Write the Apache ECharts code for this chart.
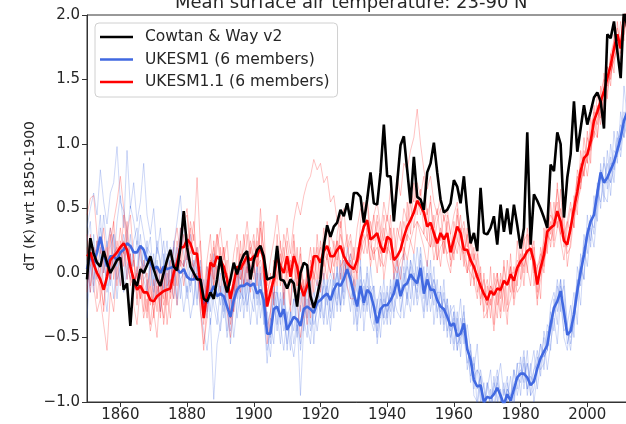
<!DOCTYPE html>
<html><head><meta charset="utf-8">
<script src="https://cdn.jsdelivr.net/npm/echarts@6/dist/echarts.min.js"></script>
<style>html,body{margin:0;padding:0;background:#fff}#c{width:626px;height:424px}</style>
</head><body><div id="c"></div>
<script>
const startYear = 1850;
const xTicks = [1860, 1880, 1900, 1920, 1940, 1960, 1980, 2000];
const titleText = 'Mean surface air temperature: 23-90 N';
const yLabel = 'dT (K) wrt 1850-1900';
const legendNames = ['Cowtan & Way v2', 'UKESM1 (6 members)', 'UKESM1.1 (6 members)'];

const cowtanWay = [
-0.05,0.27,0.15,0.08,0.05,0.17,0.08,0.00,0.05,0.10,
0.12,-0.13,-0.08,-0.41,-0.05,-0.10,0.03,0.00,0.06,0.13,
0.03,-0.05,-0.10,0.00,0.10,0.18,0.05,0.02,0.20,0.48,
0.20,0.05,0.00,-0.05,-0.05,-0.20,-0.22,-0.15,-0.20,-0.05,
0.13,-0.05,-0.15,-0.05,0.08,-0.01,0.08,0.14,0.17,-0.05,
0.10,0.18,0.21,0.13,-0.05,-0.04,-0.03,0.21,-0.05,-0.06,
-0.12,-0.05,-0.08,-0.26,0.00,0.08,0.06,-0.18,-0.27,-0.18,
-0.05,0.21,0.37,0.28,0.36,0.39,0.49,0.44,0.54,0.41,
0.62,0.62,0.59,0.39,0.57,0.78,0.54,0.53,0.78,1.15,
0.75,0.75,0.40,0.70,0.99,1.06,0.80,0.54,0.90,0.59,
0.57,0.49,0.78,0.85,1.01,0.78,0.57,0.47,0.49,0.54,
0.72,0.67,0.54,0.75,0.47,0.23,0.31,0.17,0.66,0.31,
0.30,0.35,0.44,0.22,0.53,0.32,0.50,0.30,0.53,0.37,
0.19,0.35,1.09,0.22,0.61,0.56,0.50,0.43,0.35,0.84,
0.79,1.09,1.00,0.43,0.74,0.92,1.33,0.94,1.12,1.30,
1.15,1.25,1.36,1.40,1.33,1.12,1.85,1.82,1.95,1.72,
1.51,2.05,1.90];

const ukesm1Mean = [
0.03,0.13,0.08,0.16,0.28,0.16,0.05,0.13,0.13,0.10,
0.16,0.18,0.23,0.21,0.16,0.16,0.21,0.18,0.10,0.08,
0.03,0.05,0.00,0.05,0.03,0.04,0.05,0.03,0.00,0.03,
-0.03,-0.05,-0.05,-0.03,-0.05,-0.23,-0.23,-0.16,-0.10,-0.18,
-0.16,-0.18,-0.26,-0.34,-0.21,-0.13,-0.10,-0.10,-0.08,-0.10,
-0.08,-0.16,-0.13,-0.21,-0.47,-0.47,-0.28,-0.26,-0.34,-0.28,
-0.44,-0.39,-0.34,-0.36,-0.41,-0.28,-0.26,-0.28,-0.31,-0.23,
-0.21,-0.18,-0.16,-0.21,-0.13,-0.08,-0.10,-0.05,0.03,-0.05,
-0.16,-0.26,-0.10,-0.23,-0.13,-0.16,-0.26,-0.39,-0.28,-0.25,
-0.25,-0.21,-0.16,-0.05,-0.18,-0.10,-0.08,-0.01,-0.05,-0.08,
0.04,-0.16,-0.05,-0.13,-0.13,-0.21,-0.26,-0.28,-0.34,-0.41,
-0.39,-0.49,-0.47,-0.39,-0.59,-0.67,-0.83,-0.88,-0.87,-1.00,
-0.96,-0.97,-0.94,-0.89,-0.95,-1.02,-0.94,-0.99,-0.90,-0.81,
-0.78,-0.78,-0.81,-0.87,-0.84,-0.74,-0.66,-0.61,-0.56,-0.40,
-0.27,-0.22,-0.14,-0.30,-0.48,-0.45,-0.32,-0.14,0.01,0.14,
0.30,0.40,0.45,0.62,0.78,0.70,0.74,0.80,0.86,0.95,
1.05,1.18,1.25];

const ukesm11Mean = [
0.13,0.16,0.07,0.00,-0.05,-0.13,-0.03,0.10,0.13,0.16,
0.20,0.23,0.18,0.05,-0.05,-0.13,-0.10,-0.15,-0.15,-0.21,
-0.22,-0.18,-0.16,-0.14,-0.13,-0.12,0.00,0.08,0.20,0.20,
0.26,0.23,0.15,0.15,-0.08,-0.35,-0.15,0.08,0.05,0.13,
0.10,0.05,-0.05,-0.20,-0.08,0.05,0.03,0.08,0.13,0.10,
0.13,0.13,0.21,0.10,-0.26,-0.15,-0.05,0.13,0.05,0.00,
0.13,-0.03,0.13,0.05,-0.10,-0.18,-0.10,-0.03,0.13,0.13,
0.08,0.17,0.21,0.13,0.13,0.18,0.21,0.13,0.08,0.05,
0.03,0.10,0.26,0.36,0.41,0.26,0.28,0.31,0.21,0.16,
0.28,0.26,0.10,0.13,0.18,0.28,0.36,0.41,0.47,0.56,
0.52,0.47,0.36,0.39,0.31,0.23,0.31,0.26,0.31,0.16,
0.26,0.36,0.31,0.18,0.18,0.10,0.05,-0.03,-0.10,-0.16,
-0.21,-0.14,-0.17,-0.12,-0.13,-0.06,-0.09,-0.01,-0.06,0.04,
0.09,0.12,0.17,0.19,0.09,-0.09,0.04,0.14,0.32,0.35,
0.37,0.48,0.40,0.25,0.22,0.35,0.50,0.63,0.79,0.89,
0.92,1.02,1.18,1.25,1.33,1.41,1.51,1.61,1.74,1.85,
1.74,1.98,2.05];

const ukesm1Member1 = [
0.35,0.50,0.62,0.45,0.80,0.55,0.38,0.62,0.70,0.98,
0.55,0.48,0.30,0.52,0.40,0.22,0.45,0.30,0.15,0.28,
-0.05,0.20,0.10,-0.12,0.15,0.05,-0.20,0.10,0.35,0.15,
0.05,-0.15,0.10,-0.20,0.05,-0.35,-0.10,-0.40,-0.15,-0.30,
-0.45,-0.20,-0.50,-0.30,-0.05,-0.35,-0.15,0.05,-0.25,-0.10,
0.10,-0.20,0.05,-0.35,-0.60,-0.40,-0.20,-0.45,-0.15,-0.35,
-0.55,-0.30,-0.45,-0.20,-0.60,-0.35,-0.50,-0.15,-0.40,-0.30,
-0.10,-0.35,-0.05,-0.30,0.00,-0.20,0.10,-0.15,0.20,0.05,
-0.25,-0.05,-0.35,-0.10,-0.30,0.05,-0.20,-0.45,-0.15,-0.35,
-0.10,-0.40,-0.05,0.15,-0.20,0.05,-0.25,0.10,-0.10,0.20,
-0.05,-0.30,0.10,-0.20,0.05,-0.35,-0.10,-0.40,-0.20,-0.55,
-0.30,-0.60,-0.35,-0.50,-0.70,-0.55,-0.90,-0.75,-1.00,-0.85,
-1.10,-0.90,-1.05,-0.80,-1.00,-0.85,-1.10,-0.95,-0.75,-0.90,
-0.65,-0.90,-0.70,-0.95,-0.75,-0.60,-0.80,-0.45,-0.60,-0.30,
-0.45,-0.10,-0.30,-0.05,-0.40,-0.25,-0.50,0.05,-0.10,0.30,
0.15,0.45,0.30,0.70,0.50,0.90,0.65,1.00,0.80,1.10,
0.95,1.45,1.20];
const ukesm1Member2 = [
-0.20,0.15,-0.10,0.25,0.10,0.45,0.20,0.35,0.05,0.40,
0.60,0.35,0.95,0.50,0.70,0.40,0.55,0.85,0.45,0.30,
0.50,0.15,0.35,0.05,0.25,-0.10,0.20,0.40,0.60,0.25,
0.10,0.30,-0.05,0.15,-0.20,-0.05,-0.30,0.00,-0.25,-0.40,
-0.10,-0.35,-0.15,-0.55,-0.25,0.00,-0.30,-0.10,0.10,-0.20,
-0.30,0.00,-0.25,-0.05,-0.35,-0.55,-0.10,-0.30,-0.55,-0.20,
-0.35,-0.60,-0.20,-0.50,-0.25,-0.45,-0.10,-0.40,-0.20,-0.05,
-0.35,0.00,-0.25,-0.05,-0.35,0.05,-0.25,0.10,-0.10,-0.30,
-0.05,-0.40,0.05,-0.30,0.00,-0.35,-0.45,-0.20,-0.50,-0.15,
-0.40,-0.10,-0.35,0.05,-0.30,-0.15,0.10,-0.20,0.15,-0.10,
0.20,-0.05,-0.30,0.00,-0.25,-0.05,-0.40,-0.15,-0.50,-0.25,
-0.55,-0.30,-0.65,-0.35,-0.50,-0.85,-0.65,-1.05,-0.80,-1.10,
-0.85,-1.05,-0.80,-1.00,-0.90,-1.15,-0.85,-1.05,-1.00,-0.70,
-0.95,-0.65,-0.90,-0.70,-1.00,-0.80,-0.55,-0.75,-0.45,-0.60,
-0.20,-0.40,-0.05,-0.50,-0.60,-0.35,-0.15,-0.40,0.15,-0.05,
0.45,0.20,0.60,0.40,0.85,0.55,0.95,0.70,1.10,0.85,
1.25,1.05,1.40];
const ukesm1Member3 = [
0.10,-0.15,0.30,-0.05,0.20,-0.10,-0.30,0.05,-0.20,0.15,
-0.10,0.20,-0.05,0.30,0.05,0.25,-0.05,0.20,-0.15,0.10,
-0.20,0.05,-0.30,0.15,-0.15,0.10,0.20,-0.25,-0.05,-0.30,
-0.10,-0.35,-0.20,0.05,-0.30,-0.45,-0.60,-0.35,-0.98,-0.55,
-0.40,-0.10,-0.45,-0.20,-0.50,-0.25,0.05,-0.35,-0.05,-0.40,
-0.15,-0.40,0.00,-0.30,-0.70,-0.35,-0.55,-0.15,-0.40,-0.60,
-0.30,-0.50,-0.65,-0.40,-0.55,-0.15,-0.40,-0.55,-0.25,-0.45,
-0.25,-0.10,-0.40,-0.20,-0.05,-0.30,0.05,-0.25,-0.05,0.15,
-0.40,-0.20,0.10,-0.45,-0.15,-0.35,-0.10,-0.55,-0.30,-0.05,
-0.35,-0.05,-0.30,-0.15,0.05,-0.35,-0.15,-0.30,0.00,-0.25,
-0.10,0.05,-0.25,0.10,-0.40,-0.15,-0.35,-0.05,-0.45,-0.30,
-0.25,-0.45,-0.20,-0.55,-0.40,-0.60,-0.75,-0.55,-0.95,-1.05,
-0.90,-0.75,-1.10,-0.85,-0.70,-0.95,-0.80,-1.05,-0.75,-0.95,
-0.80,-0.60,-0.95,-0.75,-0.60,-0.90,-0.70,-0.50,-0.75,-0.55,
-0.35,-0.55,-0.20,-0.10,-0.45,-0.60,-0.30,-0.05,-0.25,0.20,
0.05,0.35,0.20,0.50,0.80,0.60,0.55,0.90,0.70,1.05,
0.90,1.15,1.05];
const ukesm1Member4 = [
-0.35,0.05,-0.15,0.20,0.45,0.00,0.25,-0.10,0.30,0.05,
0.20,-0.05,0.30,0.10,-0.15,0.05,0.30,0.00,0.25,-0.10,
0.15,-0.20,0.05,0.25,-0.10,0.15,-0.05,0.20,-0.20,0.10,
-0.15,0.05,-0.25,0.10,0.00,-0.30,0.05,-0.20,0.15,-0.05,
-0.25,0.00,-0.30,-0.45,-0.10,-0.20,0.10,-0.25,-0.15,0.05,
-0.20,0.05,-0.35,-0.15,-0.45,-0.65,-0.30,-0.10,-0.35,-0.15,
-0.60,-0.30,-0.55,-0.35,-0.95,-0.40,-0.20,-0.45,-0.30,-0.15,
-0.20,-0.40,-0.10,-0.35,-0.20,0.05,-0.30,-0.05,0.10,-0.20,
-0.10,-0.30,-0.05,-0.25,0.05,-0.20,-0.40,-0.25,-0.10,-0.35,
-0.15,-0.30,0.00,-0.20,-0.05,0.15,-0.10,0.05,-0.25,0.05,
-0.15,-0.35,-0.05,-0.30,-0.10,-0.30,-0.15,-0.45,-0.25,-0.40,
-0.60,-0.35,-0.55,-0.25,-0.75,-0.60,-0.95,-1.00,-0.75,-0.90,
-1.05,-1.10,-0.85,-0.95,-1.10,-0.90,-1.00,-0.80,-1.05,-0.70,
-0.70,-0.85,-0.60,-0.95,-0.90,-0.65,-0.75,-0.70,-0.40,-0.45,
-0.30,-0.05,-0.25,-0.45,-0.40,-0.55,-0.35,-0.20,0.05,-0.05,
0.35,0.25,0.50,0.65,0.55,0.70,0.85,0.60,0.95,0.90,
1.10,1.25,1.15];
const ukesm1Member5 = [
0.25,0.40,-0.05,0.15,0.35,0.10,-0.10,0.20,0.30,-0.05,
0.05,0.30,0.15,-0.05,0.25,0.35,0.10,0.05,0.20,0.15,
-0.10,0.25,0.05,-0.15,0.10,0.20,0.00,-0.20,0.10,0.05,
0.15,-0.10,0.05,0.20,-0.10,-0.25,-0.05,-0.30,0.05,-0.20,
0.00,-0.30,-0.10,-0.35,-0.15,0.05,-0.20,-0.05,-0.30,0.00,
0.10,-0.25,-0.05,-0.40,-0.30,-0.50,-0.15,-0.40,-0.20,-0.45,
-0.35,-0.25,-0.05,-0.45,-0.20,-0.10,-0.35,-0.05,-0.55,-0.20,
-0.30,-0.05,-0.20,-0.45,-0.15,-0.25,0.00,-0.20,0.05,-0.10,
-0.20,-0.45,-0.15,-0.05,-0.25,-0.10,-0.30,-0.50,-0.20,-0.40,
-0.30,-0.15,-0.20,-0.30,-0.35,0.00,-0.20,0.10,0.00,-0.20,
0.15,-0.20,0.00,-0.15,-0.05,-0.20,-0.30,-0.20,-0.30,-0.50,
-0.35,-0.60,-0.45,-0.30,-0.55,-0.80,-0.70,-0.90,-0.80,-1.05,
-0.95,-1.00,-0.90,-0.75,-0.95,-1.10,-0.90,-0.95,-0.85,-0.80,
-0.75,-0.80,-0.70,-0.85,-0.75,-0.70,-0.55,-0.65,-0.60,-0.25,
-0.15,-0.30,-0.10,-0.20,-0.55,-0.40,-0.25,-0.10,-0.05,0.25,
0.30,0.40,0.35,0.55,0.70,0.85,0.75,0.70,0.80,1.00,
1.15,1.05,1.30];
const ukesm1Member6 = [
-0.10,0.05,0.20,0.10,-0.05,0.20,-0.15,0.00,0.15,-0.20,
0.10,-0.15,0.05,0.15,-0.10,0.00,0.20,-0.05,-0.15,0.10,
-0.15,0.10,-0.10,0.00,0.05,-0.15,0.25,0.05,-0.05,0.00,
-0.20,-0.05,0.00,-0.25,0.10,-0.20,-0.35,0.00,0.10,0.05,
-0.15,-0.25,-0.05,-0.20,-0.30,-0.10,-0.15,-0.20,0.05,-0.10,
-0.15,0.05,-0.10,0.00,-0.40,-0.30,-0.15,-0.15,-0.40,-0.05,
-0.45,-0.35,-0.20,-0.25,-0.15,-0.30,-0.05,-0.25,-0.15,-0.25,
-0.05,-0.20,-0.10,0.00,-0.10,0.00,-0.25,0.05,0.10,0.00,
-0.05,-0.15,-0.20,-0.25,-0.10,-0.15,-0.10,-0.30,-0.35,-0.20,
-0.30,-0.25,-0.10,0.00,-0.15,-0.05,0.05,-0.05,-0.05,-0.15,
0.10,-0.10,0.00,-0.20,-0.05,-0.15,-0.15,-0.35,-0.20,-0.45,
-0.30,-0.55,-0.50,-0.45,-0.60,-0.70,-0.80,-0.75,-0.80,-1.00,
-0.85,-0.95,-0.95,-0.85,-1.00,-1.00,-0.90,-1.05,-0.95,-0.80,
-0.85,-0.70,-0.90,-0.80,-0.85,-0.75,-0.65,-0.65,-0.60,-0.45,
-0.30,-0.20,-0.05,-0.35,-0.45,-0.50,-0.40,-0.10,0.10,0.15,
0.25,0.40,0.45,0.65,0.75,0.70,0.70,0.85,0.85,0.95,
1.00,1.20,1.25];

const ukesm11Member1 = [
0.45,0.58,0.60,0.30,0.15,0.35,0.05,0.25,0.40,0.10,
0.35,0.15,0.40,0.10,-0.15,0.05,-0.20,0.10,-0.05,-0.25,
-0.05,-0.30,0.05,-0.20,0.10,-0.15,0.20,0.35,0.15,0.40,
0.50,0.20,0.40,0.10,0.25,-0.15,0.10,0.30,-0.10,0.20,
0.35,0.10,0.25,-0.10,0.15,0.30,0.05,0.20,0.40,0.15,
0.30,0.05,0.35,0.20,-0.10,0.10,0.25,0.45,0.20,0.10,
0.35,0.15,0.40,0.55,0.45,0.60,0.70,0.75,0.88,0.80,
0.85,0.70,0.75,0.55,0.60,0.40,0.35,0.50,0.20,0.30,
0.10,0.35,0.50,0.40,0.60,0.30,0.45,0.55,0.35,0.25,
0.45,0.30,0.15,0.35,0.25,0.50,0.40,0.65,0.55,0.70,
0.60,0.75,0.45,0.55,0.35,0.50,0.25,0.45,0.30,0.10,
0.40,0.25,0.45,0.15,0.30,0.05,0.20,-0.15,0.05,-0.30,
-0.10,-0.35,0.00,-0.25,-0.05,-0.30,0.10,-0.15,0.05,-0.10,
0.25,0.00,0.35,0.10,0.25,-0.15,0.20,0.05,0.45,0.30,
0.55,0.35,0.65,0.20,0.40,0.55,0.35,0.80,0.70,1.05,
0.85,1.20,1.05,1.40,1.20,1.55,1.35,1.70,1.55,1.95,
1.70,2.10,2.05];
const ukesm11Member2 = [
0.20,-0.10,0.15,-0.20,0.05,-0.30,0.10,0.30,-0.05,0.25,
0.05,0.45,0.20,-0.10,0.15,-0.25,0.05,-0.30,-0.05,-0.40,
-0.15,0.05,-0.35,0.00,-0.25,0.10,-0.10,0.25,0.05,0.30,
0.10,0.40,0.25,0.74,0.20,-0.30,0.05,-0.15,0.25,0.00,
-0.15,0.20,-0.05,-0.35,0.05,-0.15,0.25,-0.10,0.30,0.05,
-0.05,0.35,0.15,0.40,-0.20,0.00,-0.25,0.30,-0.10,0.20,
-0.05,-0.30,0.25,-0.10,0.15,-0.35,0.05,-0.20,0.20,-0.05,
0.25,0.05,0.40,0.10,-0.05,0.30,0.45,0.15,0.30,-0.05,
0.20,-0.05,0.40,0.55,0.30,0.10,0.45,0.25,0.05,0.35,
0.15,0.45,0.00,0.25,0.40,0.10,0.55,0.30,0.70,0.45,
0.65,0.30,0.50,0.20,0.45,0.10,0.35,0.15,0.40,0.05,
0.20,0.50,0.10,0.35,0.00,0.25,-0.10,0.15,-0.25,0.00,
-0.35,0.05,-0.40,0.00,-0.30,0.10,-0.25,0.15,-0.20,0.25,
-0.05,0.30,0.00,0.40,-0.10,0.05,-0.20,0.35,0.15,0.55,
0.25,0.70,0.30,0.45,0.05,0.25,0.60,0.45,0.95,0.75,
1.10,0.85,1.30,1.05,1.45,1.25,1.60,1.45,1.85,1.70,
1.95,1.80,2.15];
const ukesm11Member3 = [
-0.15,0.30,0.05,0.25,-0.20,0.10,0.20,-0.05,0.40,0.55,
0.75,0.50,0.30,0.45,0.10,-0.05,0.20,-0.10,-0.30,0.05,
-0.35,-0.10,-0.30,0.05,-0.40,-0.15,0.10,-0.10,0.35,0.05,
0.30,0.10,-0.05,0.20,-0.25,-0.55,-0.35,0.15,-0.05,0.30,
0.15,-0.10,0.10,-0.40,-0.20,0.20,-0.05,0.30,0.00,0.25,
0.10,-0.10,0.40,-0.05,-0.45,-0.30,0.10,-0.05,0.25,-0.20,
0.25,0.05,-0.15,0.20,-0.30,-0.05,-0.40,0.10,-0.15,0.30,
0.00,0.35,0.10,0.30,0.20,0.05,0.40,-0.05,0.15,0.25,
-0.10,0.20,0.10,0.45,0.55,0.25,0.10,0.40,0.15,0.45,
0.30,0.10,0.35,0.05,0.20,0.40,0.25,0.55,0.35,0.60,
0.45,0.55,0.25,0.60,0.20,0.40,0.50,0.15,0.45,0.30,
0.10,0.45,0.30,0.05,0.35,-0.10,0.15,0.05,-0.20,-0.05,
-0.25,-0.10,-0.20,-0.35,0.00,-0.15,-0.40,0.05,-0.25,-0.05,
0.15,-0.10,0.25,0.35,0.05,-0.25,0.10,0.25,0.40,0.20,
0.45,0.55,0.25,0.10,0.35,0.50,0.35,0.70,0.85,0.75,
1.05,0.95,1.15,1.30,1.15,1.45,1.60,1.50,1.70,1.80,
1.65,1.95,2.00];
const ukesm11Member4 = [
0.10,0.25,-0.10,-0.30,-0.20,-0.40,-0.60,-0.15,-0.30,0.05,
-0.10,0.20,-0.05,0.15,-0.25,-0.40,-0.10,-0.35,-0.20,-0.45,
-0.30,-0.50,-0.10,-0.40,-0.15,-0.35,-0.05,-0.25,0.15,-0.10,
0.10,0.35,-0.05,0.00,-0.30,-0.60,-0.20,0.05,0.20,-0.05,
0.20,-0.05,-0.30,-0.50,-0.25,0.05,-0.15,0.15,-0.10,0.20,
0.00,0.25,-0.05,0.10,-0.55,-0.35,0.05,-0.10,0.15,-0.25,
0.05,-0.25,0.15,-0.20,-0.50,-0.30,0.05,-0.35,0.05,0.20,
-0.15,0.10,-0.05,0.20,0.05,0.25,-0.05,0.20,-0.10,-0.20,
-0.20,0.05,0.25,0.15,0.35,0.05,0.20,0.00,0.30,-0.05,
0.15,0.35,-0.05,0.10,-0.05,0.20,0.10,0.25,0.15,0.40,
0.30,0.20,0.05,0.35,0.10,0.25,0.05,0.30,0.10,0.00,
0.25,0.15,0.35,0.10,0.00,0.15,-0.05,-0.20,0.00,-0.35,
-0.30,-0.20,-0.45,-0.15,-0.35,-0.10,-0.30,-0.20,-0.05,-0.15,
-0.10,0.15,0.05,-0.10,0.20,-0.20,-0.05,0.10,0.20,0.40,
0.20,0.35,0.50,0.35,0.15,0.20,0.45,0.55,0.65,0.90,
0.75,0.95,1.10,1.05,1.30,1.25,1.40,1.55,1.65,1.75,
1.80,1.85,2.00];
const ukesm11Member5 = [
0.30,0.05,0.20,0.15,0.25,0.00,0.15,0.35,0.20,-0.10,
0.25,0.05,0.30,0.00,0.10,-0.20,0.00,-0.15,-0.35,-0.10,
-0.25,-0.05,-0.20,-0.35,0.00,-0.20,-0.05,0.10,0.25,0.40,
0.45,0.15,0.30,0.05,-0.15,-0.40,-0.10,0.00,0.10,0.30,
0.05,0.20,-0.10,-0.15,-0.30,-0.05,0.15,-0.10,0.05,-0.15,
0.25,0.05,0.50,0.15,-0.15,-0.05,-0.20,0.15,0.00,0.30,
0.15,0.05,0.30,-0.05,0.20,-0.15,0.00,0.20,-0.05,0.10,
0.20,-0.05,0.15,0.00,0.25,0.10,0.30,0.20,0.05,0.15,
0.05,0.00,0.20,0.30,0.15,0.40,0.25,0.45,0.30,0.55,
0.40,0.65,0.50,0.75,0.60,0.85,0.80,0.95,1.05,1.27,
1.00,0.80,0.65,0.75,0.55,0.45,0.60,0.40,0.50,0.30,
0.45,0.55,0.30,0.40,0.20,0.30,0.10,0.20,-0.05,-0.15,
-0.05,-0.25,-0.10,0.00,-0.20,0.05,-0.10,0.05,-0.15,0.10,
0.05,0.25,0.30,0.15,0.10,0.05,0.15,0.00,0.35,0.45,
0.40,0.65,0.45,0.30,0.40,0.30,0.55,0.75,0.65,0.95,
0.85,1.10,1.25,1.15,1.40,1.50,1.45,1.70,1.80,1.90,
1.75,2.05,2.10];
const ukesm11Member6 = [
0.05,-0.15,0.10,-0.05,-0.10,-0.25,0.05,-0.05,0.15,0.20,
0.10,0.25,0.05,-0.05,-0.10,0.00,-0.20,-0.05,0.00,-0.15,
-0.30,-0.15,-0.05,-0.25,-0.10,-0.05,-0.20,0.00,0.10,0.05,
0.20,0.10,0.05,0.15,-0.05,-0.25,-0.05,0.10,-0.10,0.05,
0.05,-0.05,0.00,-0.15,-0.05,0.00,-0.05,0.05,0.10,0.05,
0.15,0.05,0.10,-0.05,-0.25,-0.10,-0.10,0.00,0.05,0.10,
0.00,0.10,0.05,-0.10,0.05,-0.15,-0.05,0.05,0.00,-0.10,
0.05,0.15,0.10,0.00,0.15,0.25,0.05,0.10,0.00,0.10,
0.00,0.05,0.15,0.25,0.30,0.20,0.15,0.20,0.10,0.05,
0.20,0.15,0.05,0.00,0.10,0.15,0.30,0.25,0.35,0.40,
0.35,0.30,0.25,0.20,0.30,0.10,0.20,0.25,0.15,0.20,
0.15,0.25,0.20,0.15,0.05,0.00,-0.05,0.00,-0.10,-0.20,
-0.25,-0.10,-0.15,-0.05,-0.15,-0.05,-0.10,0.00,0.00,0.05,
0.10,0.05,0.15,0.20,0.00,0.05,0.10,0.20,0.30,0.25,
0.35,0.40,0.30,0.25,0.20,0.35,0.45,0.55,0.70,0.80,
0.90,1.00,1.05,1.20,1.25,1.35,1.45,1.55,1.65,1.75,
1.80,1.90,1.95];

const ukesm1Members = [ukesm1Member1, ukesm1Member2, ukesm1Member3, ukesm1Member4, ukesm1Member5, ukesm1Member6];
const ukesm11Members = [ukesm11Member1, ukesm11Member2, ukesm11Member3, ukesm11Member4, ukesm11Member5, ukesm11Member6];

function pairs(arr) { return arr.map((v, i) => [startYear + i, v]); }

const FONT = 'DejaVu Sans';
const TXT = '#262626';
const series = [];
ukesm1Members.forEach((m, i) => series.push({
  name: 'UKESM1 member ' + (i + 1), type: 'line', data: pairs(m), symbol: 'none', silent: true,
  lineStyle: { width: 1, color: 'rgba(65,105,225,0.26)' }
}));
ukesm11Members.forEach((m, i) => series.push({
  name: 'UKESM1.1 member ' + (i + 1), type: 'line', data: pairs(m), symbol: 'none', silent: true,
  lineStyle: { width: 1, color: 'rgba(255,0,0,0.24)' }
}));
series.push({ name: legendNames[1], type: 'line', data: pairs(ukesm1Mean), symbol: 'none', itemStyle: { color: '#4169E1' }, lineStyle: { width: 2.6, color: '#4169E1' } });
series.push({ name: legendNames[2], type: 'line', data: pairs(ukesm11Mean), symbol: 'none', itemStyle: { color: '#FF0000' }, lineStyle: { width: 2.6, color: '#FF0000' } });
series.push({ name: legendNames[0], type: 'line', data: pairs(cowtanWay), symbol: 'none', itemStyle: { color: '#000000' }, lineStyle: { width: 2.6, color: '#000000' } });

const chart = echarts.init(document.getElementById('c'), null, { renderer: 'canvas' });
chart.setOption({
  animation: false,
  backgroundColor: '#ffffff',
  title: {
    text: titleText, left: 175, top: -6, padding: 0,
    textStyle: { fontSize: 18, fontWeight: 'normal', color: TXT, fontFamily: FONT }
  },
  legend: {
    data: legendNames, orient: 'vertical', left: 95, top: 23,
    icon: 'rect', itemWidth: 33, itemHeight: 2.6, itemGap: 6.5, padding: [6, 8, 7, 5],
    backgroundColor: 'rgba(255,255,255,0.85)', borderColor: '#d0d0d0', borderWidth: 1, borderRadius: 4,
    textStyle: { fontSize: 15.5, color: TXT, fontFamily: FONT, padding: [0, 0, 0, 7], lineHeight: 16 }
  },
  grid: { left: 87, width: 547, top: 15, height: 387, outerBoundsMode: 'none', containLabel: false,
    show: true, borderColor: '#333', borderWidth: 1 },
  xAxis: {
    type: 'value', min: 1850, max: 2014,
    axisLine: { show: true, onZero: false, lineStyle: { color: '#333', width: 1 } },
    axisTick: { show: true, length: 5, customValues: xTicks, lineStyle: { color: '#333' } },
    axisLabel: { customValues: xTicks, margin: 6, fontSize: 15, color: TXT, fontFamily: FONT,
      formatter: v => String(v) },
    splitLine: { show: false }
  },
  yAxis: {
    type: 'value', min: -1, max: 2, interval: 0.5,
    axisLine: { show: true, onZero: false, lineStyle: { color: '#333', width: 1 } },
    axisTick: { show: true, length: 5, lineStyle: { color: '#333' } },
    axisLabel: { margin: 7, fontSize: 15, color: TXT, fontFamily: FONT,
      formatter: v => (v < 0 ? '\u2212' : '') + Math.abs(v).toFixed(1) },
    splitLine: { show: false }
  },
  graphic: [{
    type: 'text', x: 30, y: 196, rotation: Math.PI / 2,
    style: { text: yLabel, fontSize: 14, fontFamily: FONT, fill: TXT, align: 'center', verticalAlign: 'middle', textAlign: 'center', textVerticalAlign: 'middle' }
  }],
  series: series
});
</script>
</body></html>
